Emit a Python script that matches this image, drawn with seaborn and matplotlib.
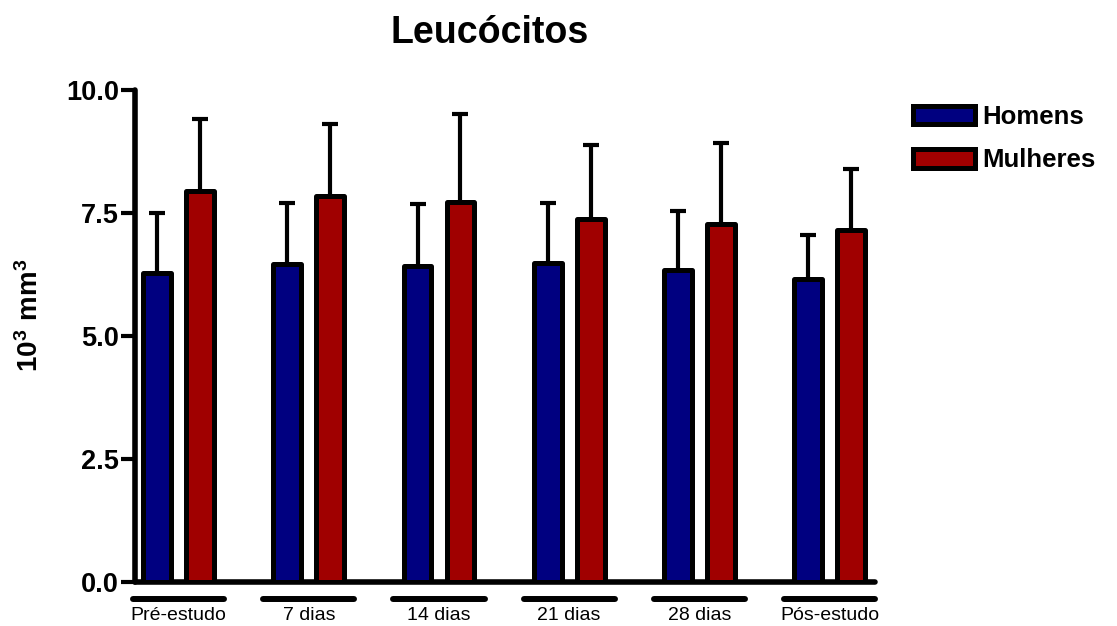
import numpy as np
import pandas as pd
import matplotlib
matplotlib.use("Agg")
import matplotlib.pyplot as plt
import matplotlib.transforms as mtransforms
from matplotlib.patches import Patch
import seaborn as sns

# ---- data ----
categories = ["Pré-estudo", "7 dias", "14 dias", "21 dias", "28 dias", "Pós-estudo"]
series_names = ["Homens", "Mulheres"]
homens_mean = [6.29, 6.47, 6.43, 6.49, 6.35, 6.15]
homens_sd = [1.21, 1.23, 1.25, 1.21, 1.19, 0.90]
mulheres_mean = [7.94, 7.84, 7.73, 7.37, 7.27, 7.16]
mulheres_sd = [1.47, 1.47, 1.78, 1.51, 1.65, 1.23]
yticks = [0.0, 2.5, 5.0, 7.5, 10.0]
title = "Leucócitos"
ylabel = r"$\mathbf{10^3\ mm^3}$"

colors = ["#000080", "#A00000"]

df = pd.DataFrame({
    "tempo": categories * 2,
    "sexo": [series_names[0]] * len(categories) + [series_names[1]] * len(categories),
    "valor": homens_mean + mulheres_mean,
})
sds = {series_names[0]: homens_sd, series_names[1]: mulheres_sd}

sns.set_style("ticks")
plt.rcParams["font.family"] = ["Liberation Sans", "DejaVu Sans"]
plt.rcParams["text.color"] = "black"
plt.rcParams["axes.labelcolor"] = "black"
plt.rcParams["xtick.color"] = "black"
plt.rcParams["ytick.color"] = "black"
plt.rcParams["mathtext.fontset"] = "custom"
plt.rcParams["mathtext.rm"] = "Liberation Sans"
plt.rcParams["mathtext.bf"] = "Liberation Sans:bold"

fig = plt.figure(figsize=(11.17, 6.26), dpi=100)
ax = fig.add_axes([0.1209, 0.0703, 0.6625, 0.786])

sns.barplot(data=df, x="tempo", y="valor", hue="sexo", order=categories,
            hue_order=series_names, palette=colors, saturation=1, width=0.66, gap=0.35,
            edgecolor="black", linewidth=3.6, errorbar=None, legend=False,
            ax=ax, zorder=3)

for cont, name in zip(ax.containers, series_names):
    for p in cont.patches:
        p.set_joinstyle("round")
    xs = [p.get_x() + p.get_width() / 2 for p in cont.patches]
    hs = [p.get_height() for p in cont.patches]
    ax.errorbar(xs, hs, yerr=sds[name], fmt="none", ecolor="black",
                elinewidth=3.0, capsize=5.5, capthick=3.0, zorder=2)

ax.set_ylim(0, 10)
ax.set_xlim(-0.335, 5.35)
ax.set_yticks(yticks)
ax.set_yticklabels([f"{v:.1f}" for v in yticks], fontsize=19.5, fontweight="bold")
ax.tick_params(axis="y", direction="out", length=10, width=3, pad=1.5, color="black",
               labelcolor="black")
ax.tick_params(axis="x", length=0, pad=18, labelsize=14, labelcolor="black")
ax.set_xlabel("")
ax.set_ylabel("")

for side in ["top", "right"]:
    ax.spines[side].set_visible(False)
for side in ["left", "bottom"]:
    ax.spines[side].set_linewidth(4)
    ax.spines[side].set_color("black")
    ax.spines[side].set_capstyle("round")

# group underlines beneath x-axis
trans = mtransforms.blended_transform_factory(ax.transData, ax.transAxes)
for xc in ax.get_xticks():
    ax.plot([xc - 0.35, xc + 0.35], [-0.035, -0.035], transform=trans,
            color="black", lw=4.3, solid_capstyle="round", clip_on=False)

fig.text(0.4387, 0.931, title, ha="center", va="baseline",
         fontsize=27, fontweight="bold", color="black")
fig.text(0.027, 0.497, ylabel, ha="center", va="center", rotation=90,
         fontsize=20, color="black")

handles = [Patch(facecolor=c, edgecolor="black", linewidth=3.6) for c in colors]
leg = fig.legend(handles, series_names, loc="upper left",
                 bbox_to_anchor=(913 / 1117, 1 - 105 / 626), frameon=False,
                 borderpad=0, borderaxespad=0, handlelength=2.4, handleheight=0.75,
                 handletextpad=0.3, labelspacing=0.75,
                 prop={"size": 18.5, "weight": "bold"})
for t in leg.get_texts():
    t.set_color("black")

fig.savefig("out.png", dpi=100)
